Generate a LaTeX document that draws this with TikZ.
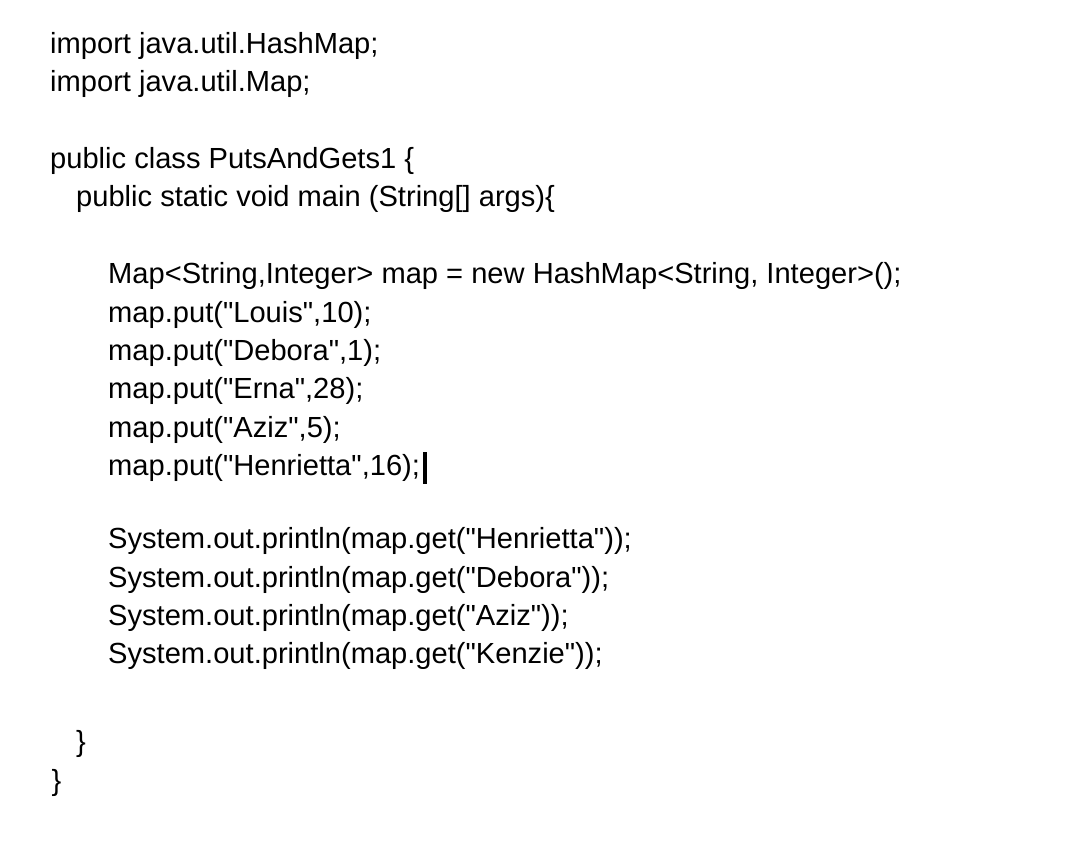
\documentclass[tikz,border=0pt]{standalone}
\usepackage{amsmath}
\usepackage{fontspec}
\setmainfont{Liberation Sans}[Ligatures=TeXOff]
\usepackage{tikz}

\begin{document}
\begin{tikzpicture}[x=1pt, y=-1pt,
	src/.style = {anchor = base west, inner sep = 0pt, font = \fontsize{29.1}{35}\selectfont}]

\fill[white] (0,0) rectangle (1078,860);

\node[src] (imp1) at (50,53.5) {import java.util.HashMap;};
\node[src] (imp2) at (50,91) {import java.util.Map;};

\node[src] (cls) at (50,168) {public class PutsAndGets1 \{};
\node[src] (mainm) at (76,206) {public static void main (String[] args)\{};

\node[src] (decl) at (108,283.5) {Map<String,Integer> map = new HashMap<String, Integer>();};
\node[src] (put1) at (108,322) {map.put("Louis",10);};
\node[src] (put2) at (108,360) {map.put("Debora",1);};
\node[src] (put3) at (108,398.5) {map.put("Erna",28);};
\node[src] (put4) at (108,437) {map.put("Aziz",5);};
\node[src] (put5) at (108,475.3) {map.put("Henrietta",16);};

\node[src] (out1) at (108,548.5) {System.out.println(map.get("Henrietta"));};
\node[src] (out2) at (108,587) {System.out.println(map.get("Debora"));};
\node[src] (out3) at (108,625) {System.out.println(map.get("Aziz"));};
\node[src] (out4) at (108,663.5) {System.out.println(map.get("Kenzie"));};

\node[src] (endm) at (76,751.2) {\}};
\node[src] (endc) at (51.5,790.6) {\}};

% text cursor
\fill[black] (423.2,451.5) rectangle (427.2,483.5);
\end{tikzpicture}
\end{document}
